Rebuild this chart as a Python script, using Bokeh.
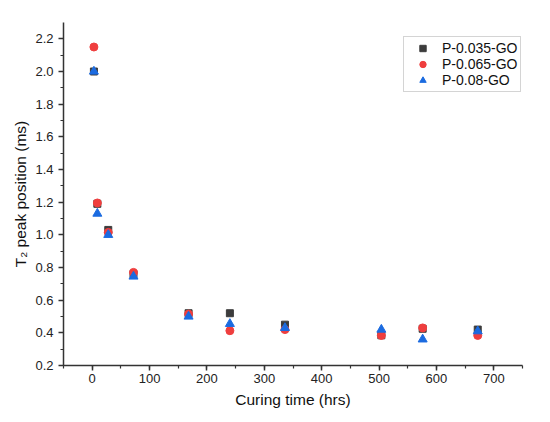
from bokeh.plotting import figure
from bokeh.models import Range1d, SingleIntervalTicker, PrintfTickFormatter, Legend, LegendItem
from bokeh.embed import file_html
from bokeh.resources import INLINE

hours = [3, 9, 28, 72, 168, 240, 336, 504, 576, 672]
p035 = [2.00, 1.19, 1.03, 0.76, 0.52, 0.52, 0.45, 0.385, 0.425, 0.42]
p065 = [2.15, 1.195, 1.015, 0.77, 0.515, 0.413, 0.42, 0.384, 0.43, 0.384]
p08 = [2.00, 1.13, 1.00, 0.745, 0.50, 0.455, 0.43, 0.42, 0.36, 0.41]
series_names = ["P-0.035-GO", "P-0.065-GO", "P-0.08-GO"]

p = figure(width=542, height=414, output_backend="svg", toolbar_location=None,
           x_range=Range1d(-50, 750), y_range=Range1d(0.2, 2.3),
           min_border_left=63, min_border_right=20, min_border_top=22, min_border_bottom=49)
p.outline_line_color = None
p.xgrid.visible = False
p.ygrid.visible = False
p.background_fill_color = "white"

r1 = p.scatter(hours, p035, marker="square", size=7, color="#3c3c3c")
r2 = p.scatter(hours, p065, marker="circle", size=8, color="#ef3e3e")
r3 = p.scatter(hours, p08, marker="triangle", size=9, color="#1b6be0")

p.xaxis.ticker = SingleIntervalTicker(interval=100, num_minor_ticks=2)
p.yaxis.ticker = SingleIntervalTicker(interval=0.2, num_minor_ticks=2)
p.xaxis.formatter = PrintfTickFormatter(format="%d")
p.yaxis.formatter = PrintfTickFormatter(format="%.1f")

for ax in (p.xaxis[0], p.yaxis[0]):
    ax.axis_line_color = "#333333"
    ax.axis_line_width = 1.5
    ax.major_tick_line_color = "#333333"
    ax.minor_tick_line_color = "#333333"
    ax.major_tick_line_width = 1.5
    ax.minor_tick_line_width = 1.2
    ax.major_tick_in = 0
    ax.major_tick_out = 5
    ax.minor_tick_in = 0
    ax.minor_tick_out = 3
    ax.major_label_text_font = "Liberation Sans"
    ax.major_label_text_font_size = "13px"
    ax.major_label_text_color = "#222222"
    ax.axis_label_text_font = "Liberation Sans"
    ax.axis_label_text_font_size = "15.5px"
    ax.axis_label_text_font_style = "normal"
    ax.axis_label_text_color = "#111111"

p.xaxis.axis_label = "Curing time (hrs)"
p.yaxis.axis_label = "T\u2082 peak position (ms)"
p.xaxis.major_label_standoff = 3
p.xaxis.axis_label_standoff = 5
p.yaxis.major_label_standoff = 5
p.yaxis.axis_label_standoff = 3

legend = Legend(items=[LegendItem(label=series_names[0], renderers=[r1]),
                       LegendItem(label=series_names[1], renderers=[r2]),
                       LegendItem(label=series_names[2], renderers=[r3])],
                location=(340, 273))
legend.border_line_color = "#aaaaaa"
legend.border_line_width = 1
legend.padding = 3
legend.margin = 0
legend.spacing = 0
legend.glyph_width = 31
legend.glyph_height = 16
legend.label_height = 16
legend.label_standoff = 4
legend.label_text_font = "Liberation Sans"
legend.label_text_font_size = "14px"
legend.label_text_color = "#111111"
legend.background_fill_alpha = 1
p.add_layout(legend, "center")

open("out.html", "w").write(file_html(p, INLINE))
